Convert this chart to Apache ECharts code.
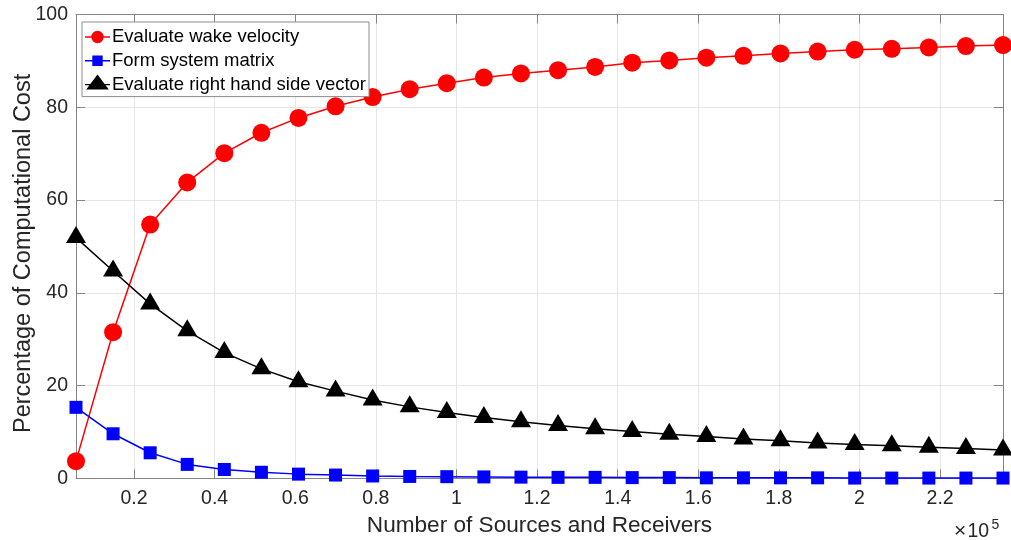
<!DOCTYPE html>
<html>
<head>
<meta charset="utf-8">
<script src="https://cdn.jsdelivr.net/npm/echarts@6/dist/echarts.min.js"></script>
<style>
  html, body { margin: 0; padding: 0; background: #fff; }
  #chart { width: 1011px; height: 540px; }
</style>
</head>
<body>
<div id="chart"></div>
<script>
// Number of sources and receivers
const sourceCounts = [5600, 14800, 24000, 33200, 42400, 51600, 60800, 70000, 79200, 88400,
  97600, 106800, 116000, 125200, 134400, 143600, 152800, 162000, 171200, 180400,
  189600, 198800, 208000, 217200, 226400, 235600];

// Share of total computational cost (%)
const wakeVelocity = [3.7, 31.5, 54.7, 63.8, 70.1, 74.5, 77.7, 80.2, 82.2, 83.9,
  85.2, 86.4, 87.3, 88.0, 88.7, 89.6, 90.1, 90.7, 91.1, 91.6,
  92.0, 92.4, 92.6, 92.9, 93.2, 93.4];
const systemMatrix = [15.3, 9.6, 5.5, 3.0, 1.9, 1.3, 0.9, 0.7, 0.5, 0.4,
  0.35, 0.3, 0.25, 0.2, 0.2, 0.15, 0.15, 0.1, 0.1, 0.1,
  0.1, 0.05, 0.05, 0.05, 0.05, 0.05];
const rhsVector = [51.9, 44.7, 37.6, 31.8, 27.1, 23.6, 20.8, 18.8, 16.9, 15.4,
  14.2, 13.1, 12.2, 11.4, 10.7, 10.1, 9.5, 9.0, 8.5, 8.1,
  7.6, 7.3, 7.0, 6.7, 6.4, 6.1];

// Axis tick positions
const xTicks = [20000, 40000, 60000, 80000, 100000, 120000, 140000, 160000, 180000, 200000, 220000];

const seriesNames = ['Evaluate wake velocity', 'Form system matrix', 'Evaluate right hand side vector'];

const FONT = 'Liberation Sans, Arial, Helvetica, sans-serif';
const AXIS_COLOR = '#858585';
const LABEL_COLOR = '#262626';

// Legend glyphs: a short line with the marker on it, drawn in a 25x20 box.
// The zero-length sub-paths pin the box so every glyph shares the same frame.
const ICON_FRAME = 'M12.5,0L12.5,0M12.5,20L12.5,20';
const ICON_LINE = 'M0,9.3L25,9.3L25,10.7L0,10.7Z';
const legendIcons = [
  'path://' + ICON_FRAME + ICON_LINE + 'M18.7,10A6.2,6.2,0,1,1,6.3,10A6.2,6.2,0,1,1,18.7,10Z',
  'path://' + ICON_FRAME + ICON_LINE + 'M7.3,4.8L17.7,4.8L17.7,15.2L7.3,15.2Z',
  'path://' + ICON_FRAME + ICON_LINE + 'M12.5,0L23.8,15L1.2,15Z'
];

const pair = (ys) => sourceCounts.map((x, i) => [x, ys[i]]);

const chart = echarts.init(document.getElementById('chart'), null, { renderer: 'canvas' });

const xMin = sourceCounts[0];
const xMax = sourceCounts[sourceCounts.length - 1];

chart.setOption({
  animation: false,
  backgroundColor: '#ffffff',
  textStyle: { fontFamily: FONT },
  grid: { left: 76, right: 8, top: 14.5, bottom: 61.7, containLabel: false, outerBoundsMode: 'none' },
  legend: {
    orient: 'vertical',
    left: 82,
    top: 22,
    data: seriesNames.map((name, i) => ({ name, icon: legendIcons[i] })),
    backgroundColor: '#ffffff',
    borderColor: '#8c8c8c',
    borderWidth: 1,
    borderRadius: 0,
    padding: [5, 3, 2, 3],
    itemWidth: 25,
    itemHeight: 20,
    itemGap: 3.8,
    itemStyle: { borderWidth: 0 },
    textStyle: { fontFamily: FONT, fontSize: 18.5, color: '#000', lineHeight: 20, padding: [0, 0, 0, -3] }
  },
  xAxis: [{
    type: 'value',
    min: xMin,
    max: xMax,
    name: 'Number of Sources and Receivers',
    nameLocation: 'middle',
    nameGap: 36,
    nameMoveOverlap: false,
    nameTextStyle: { fontFamily: FONT, fontSize: 22.6, color: LABEL_COLOR },
    axisLine: { show: true, lineStyle: { color: AXIS_COLOR, width: 1 } },
    axisTick: { show: true, inside: true, length: 9, customValues: xTicks, lineStyle: { color: AXIS_COLOR } },
    axisLabel: {
      customValues: xTicks,
      margin: 10,
      fontFamily: FONT, fontSize: 19.5, color: LABEL_COLOR,
      formatter: (v) => String(+(v / 1e5).toFixed(1))
    },
    splitLine: { show: true, lineStyle: { color: '#e6e6e6', width: 1 } }
  }, {
    type: 'value',
    position: 'top',
    min: xMin,
    max: xMax,
    axisLine: { show: true, onZero: false, lineStyle: { color: AXIS_COLOR, width: 1 } },
    axisTick: { show: true, inside: true, length: 9, customValues: xTicks, lineStyle: { color: AXIS_COLOR } },
    axisLabel: { show: false },
    splitLine: { show: false }
  }],
  yAxis: [{
    type: 'value',
    min: 0,
    max: 100,
    interval: 20,
    name: 'Percentage of Computational Cost',
    nameLocation: 'middle',
    nameGap: 40,
    nameMoveOverlap: false,
    nameTextStyle: { fontFamily: FONT, fontSize: 23.5, color: LABEL_COLOR, padding: [0, 14, 0, 0] },
    axisLine: { show: true, lineStyle: { color: AXIS_COLOR, width: 1 } },
    axisTick: { show: true, inside: true, length: 9, lineStyle: { color: AXIS_COLOR } },
    axisLabel: { margin: 8, fontFamily: FONT, fontSize: 19.5, color: LABEL_COLOR },
    splitLine: { show: true, lineStyle: { color: '#e6e6e6', width: 1 } }
  }, {
    type: 'value',
    position: 'right',
    min: 0,
    max: 100,
    interval: 20,
    axisLine: { show: true, onZero: false, lineStyle: { color: AXIS_COLOR, width: 1 } },
    axisTick: { show: true, inside: true, length: 9, lineStyle: { color: AXIS_COLOR } },
    axisLabel: { show: false },
    splitLine: { show: false }
  }],
  // Exponent note for the x axis scale
  graphic: [
    { type: 'text', left: 954, top: 520.5, style: { text: '×', fontFamily: FONT, fontSize: 21, fill: LABEL_COLOR } },
    { type: 'text', left: 967.5, top: 521.5, style: { text: '10', fontFamily: FONT, fontSize: 19.5, fill: LABEL_COLOR } },
    { type: 'text', left: 991.5, top: 518.5, style: { text: '5', fontFamily: FONT, fontSize: 14, fill: LABEL_COLOR } }
  ],
  series: [{
    name: seriesNames[0],
    type: 'line',
    data: pair(wakeVelocity),
    symbol: 'circle',
    symbolSize: 18,
    color: '#ff0000',
    lineStyle: { color: '#ff0000', width: 1.5 },
    itemStyle: { color: '#ff0000' },
    z: 3
  }, {
    name: seriesNames[1],
    type: 'line',
    data: pair(systemMatrix),
    symbol: 'rect',
    symbolSize: 13,
    color: '#0000ff',
    lineStyle: { color: '#0000ff', width: 1.5 },
    itemStyle: { color: '#0000ff' },
    z: 4
  }, {
    name: seriesNames[2],
    type: 'line',
    data: pair(rhsVector),
    symbol: 'triangle',
    symbolSize: [20, 17],
    symbolOffset: [0, -3],
    color: '#000000',
    lineStyle: { color: '#000000', width: 1.5 },
    itemStyle: { color: '#000000' },
    z: 5
  }]
});
</script>
</body>
</html>
